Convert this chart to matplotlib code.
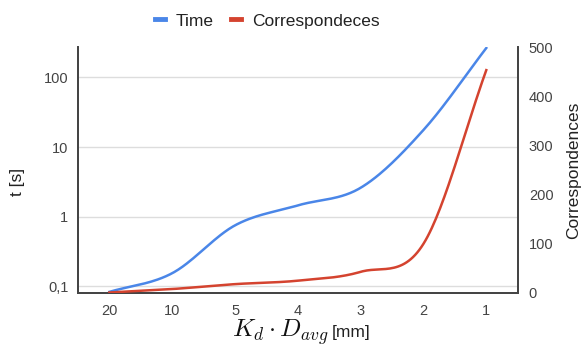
import numpy as np
import matplotlib
matplotlib.use("Agg")
import matplotlib.pyplot as plt
from matplotlib.lines import Line2D

# data
sizes = ["20", "10", "5", "4", "3", "2", "1"]
time_s = [0.083, 0.154, 0.75, 1.45, 2.6, 17.6, 265]
correspondences = [1, 8, 18, 25, 43, 100, 453]

blue = "#4a86e8"
red = "#d4432f"
axis_col = "#444444"

plt.rcParams["font.family"] = ["Liberation Sans", "DejaVu Sans"]
plt.rcParams["mathtext.fontset"] = "cm"


def smooth(y, n=30):
    """Catmull-Rom curve through the points (like curveType 'function')"""
    y = np.asarray(y, dtype=float)
    xs, ys = [], []
    for i in range(len(y) - 1):
        p0 = y[max(i - 1, 0)]
        p1 = y[i]
        p2 = y[i + 1]
        p3 = y[min(i + 2, len(y) - 1)]
        m1 = (p2 - p0) / (2 if i > 0 else 1)
        m2 = (p3 - p1) / (2 if i + 2 < len(y) else 1)
        t = np.linspace(0, 1, n, endpoint=False)
        h00 = 2 * t**3 - 3 * t**2 + 1
        h10 = t**3 - 2 * t**2 + t
        h01 = -2 * t**3 + 3 * t**2
        h11 = t**3 - t**2
        xs.append(i + t)
        ys.append(h00 * p1 + h10 * m1 + h01 * p2 + h11 * m2)
    xs.append([len(y) - 1])
    ys.append([y[-1]])
    return np.concatenate(xs), np.concatenate(ys)


fig = plt.figure(figsize=(5.82, 3.49), dpi=100)
ax = fig.add_axes([0.134, 0.1605, 0.7555, 0.7048])
ax2 = ax.twinx()

x = np.arange(len(sizes))

# time on log axis, smoothed in log space
sx, sy = smooth(np.log10(time_s))
ax.plot(sx, 10**sy, color=blue, lw=1.8, zorder=3)
ax.set_yscale("log")
ax.set_ylim(0.080, 274)
ax.set_yticks([0.1, 1, 10, 100])
ax.set_yticklabels(["0,1", "1", "10", "100"])
ax.minorticks_off()
ax.yaxis.grid(True, color="#dddddd", lw=1)
ax.set_axisbelow(True)

cx, cy = smooth(correspondences)
ax2.plot(cx, cy, color=red, lw=1.8, zorder=3)
ax2.set_ylim(0, 500)
ax2.set_yticks([0, 100, 200, 300, 400, 500])

ax.set_xlim(-0.5, 6.5)
ax.set_xticks(x)
ax.set_xticklabels(sizes)

for a in (ax, ax2):
    a.spines["top"].set_visible(False)
    for s in ("left", "right", "bottom"):
        a.spines[s].set_color(axis_col)
        a.spines[s].set_linewidth(1.3)
    a.tick_params(length=0, labelsize=10.5, labelcolor="#444444")
ax.tick_params(axis="y", pad=7)
ax.tick_params(axis="x", pad=8)
ax2.tick_params(axis="y", pad=8)

ax.set_ylabel("t [s]", fontsize=12.5, color="#222222")
ax.yaxis.set_label_coords(-0.12, 0.45)
ax2.set_ylabel("Correspondences", fontsize=12.5, color="#222222")
ax2.yaxis.set_label_coords(1.11, 0.5)

# x label: math part bigger than the unit
fig.text(0.565, 0.035, r"$K_d \cdot D_{avg}$", fontsize=18, ha="right", va="baseline", color="#111111")
fig.text(0.57, 0.035, "[mm]", fontsize=12.5, ha="left", va="baseline", color="#222222")

handles = [Line2D([], [], color=blue, lw=3.5), Line2D([], [], color=red, lw=3.5)]
fig.legend(handles, ["Time", "Correspondeces"], loc="center", bbox_to_anchor=(0.459, 0.94),
           ncol=2, frameon=False, fontsize=12.5, handlelength=0.6, handletextpad=0.6,
           columnspacing=1.0, labelcolor="#222222")

fig.savefig("out.png", dpi=100)
